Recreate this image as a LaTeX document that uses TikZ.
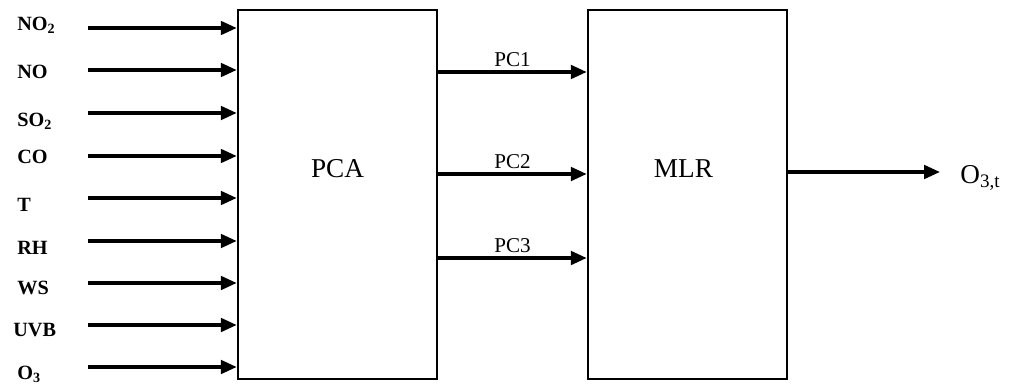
\documentclass[tikz,border=0pt]{standalone}
\usepackage{fontspec}
\setmainfont{Liberation Serif}
\usepackage{tikz}
\usetikzlibrary{arrows.meta,positioning,calc}

\begin{document}
\begin{tikzpicture}[
    block/.style={rectangle, draw=black, line width=1.4pt, minimum width=3.98cm, minimum height=7.38cm, inner sep=0pt},
    blocktext/.style={font=\fontsize{15.5}{18}\selectfont},
    invar/.style={anchor=west, inner sep=0pt, font=\fontsize{11.5}{13}\selectfont\bfseries},
    pclbl/.style={above=2pt, inner sep=0pt, font=\fontsize{12}{14}\selectfont},
    arr/.style={-{Triangle[length=0.32cm, width=0.27cm]}, line width=2pt, black}
]
    \useasboundingbox (0,0) rectangle (20.36,7.76);

    \node[block] (pca) at (6.75,3.87) {};
    \node[block] (mlr) at (13.75,3.87) {};
    \node[blocktext] (pcatext) at (6.75,4.38) {PCA};
    \node[blocktext] (mlrtext) at (13.67,4.38) {MLR};

    % input variables
    \node[invar] (no2) at (0.34,7.26) {NO\textsubscript{2}};
    \node[invar] (no)  at (0.34,6.32) {NO};
    \node[invar] (so2) at (0.34,5.34) {SO\textsubscript{2}};
    \node[invar] (co)  at (0.34,4.62) {CO};
    \node[invar] (t)   at (0.34,3.66) {T};
    \node[invar] (rh)  at (0.34,2.80) {RH};
    \node[invar] (ws)  at (0.34,2.00) {WS};
    \node[invar] (uvb) at (0.26,1.16) {UVB};
    \node[invar] (o3)  at (0.34,0.28) {O\textsubscript{3}};

    \coordinate (in1) at (1.76,7.20);
    \coordinate (in2) at (1.76,6.36);
    \coordinate (in3) at (1.76,5.50);
    \coordinate (in4) at (1.76,4.64);
    \coordinate (in5) at (1.76,3.80);
    \coordinate (in6) at (1.76,2.94);
    \coordinate (in7) at (1.76,2.10);
    \coordinate (in8) at (1.76,1.26);
    \coordinate (in9) at (1.76,0.42);

    \draw[arr] (in1) -- (in1 -| pca.west);
    \draw[arr] (in2) -- (in2 -| pca.west);
    \draw[arr] (in3) -- (in3 -| pca.west);
    \draw[arr] (in4) -- (in4 -| pca.west);
    \draw[arr] (in5) -- (in5 -| pca.west);
    \draw[arr] (in6) -- (in6 -| pca.west);
    \draw[arr] (in7) -- (in7 -| pca.west);
    \draw[arr] (in8) -- (in8 -| pca.west);
    \draw[arr] (in9) -- (in9 -| pca.west);

    % principal components
    \coordinate (pc1) at (pca.east |- 0,6.32);
    \coordinate (pc2) at (pca.east |- 0,4.28);
    \coordinate (pc3) at (pca.east |- 0,2.60);
    \draw[arr] (pc1) -- node[pclbl] {PC1} (pc1 -| mlr.west);
    \draw[arr] (pc2) -- node[pclbl] {PC2} (pc2 -| mlr.west);
    \draw[arr] (pc3) -- node[pclbl] {PC3} (pc3 -| mlr.west);

    % output
    \node[anchor=west, inner sep=0pt, font=\fontsize{15.5}{18}\selectfont] (out) at (19.2,4.2) {O\textsubscript{3,t}};
    \draw[arr, shorten >=0.4cm] (mlr.east |- 0,4.32) -- (out.west |- 0,4.32);
\end{tikzpicture}
\end{document}
